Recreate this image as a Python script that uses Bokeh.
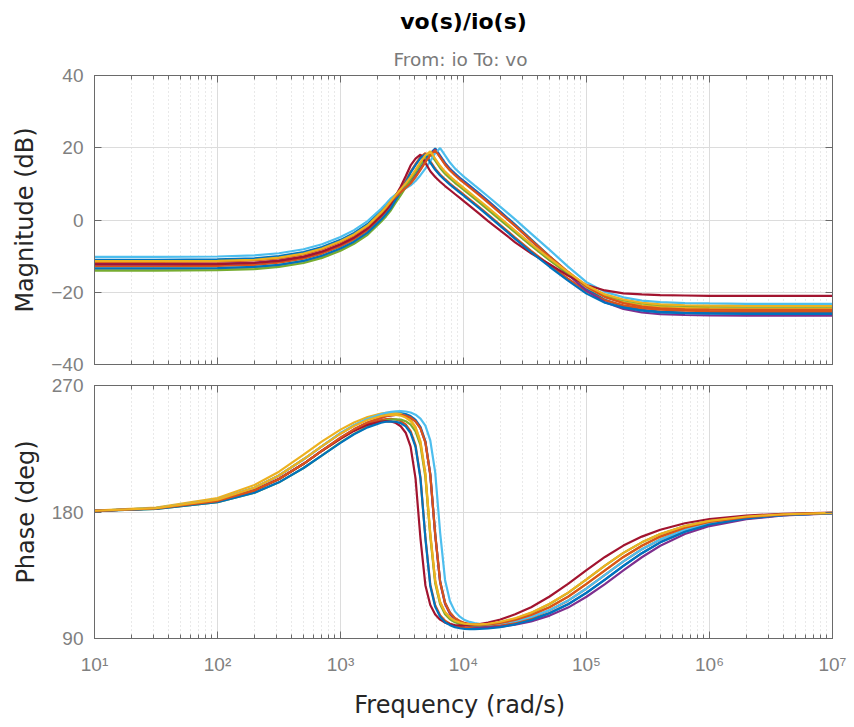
from bokeh.plotting import figure
from bokeh.models import Range1d, FixedTicker, LogAxis, LinearAxis, Title
from bokeh.layouts import column
from bokeh.embed import file_html
from bokeh.resources import INLINE

# ---------------- data ----------------
freq = [10, 31.6, 100, 200, 316, 501, 708, 1000, 1288, 1660, 2138, 2344, 2570, 2818,
        3090, 3388, 3715, 4074, 4467, 4898, 5370, 5888, 6457, 7079, 7762, 8511, 9333,
        10230, 11220, 12300, 13490, 15850, 19950, 26300, 35480, 50120, 70790, 100000,
        141300, 199500, 281800, 398100, 631000, 1000000, 1995000, 3981000, 10000000]

mag_c0 = [-11.0, -11.0, -10.9, -10.6, -10.0, -8.9, -7.5, -5.5, -3.6, -1.1, 2.5, 4.0, 5.7, 7.05, 8.25, 9.43,
          10.6, 12.4, 14.4, 16.5, 18.4, 19.8, 17.8, 15.8, 14.2, 12.9, 11.7, 10.6, 9.5, 8.4, 7.3,
          5.3, 2.31, -1.28, -5.36, -10.03, -14.59, -18.95, -22.12, -23.9, -24.9, -25.35, -25.6, -25.7, -25.8, -25.8, -25.8]
mag_c1 = [-12.8, -12.8, -12.7, -12.4, -11.8, -10.7, -9.3, -7.3, -5.4, -2.9, 0.7, 2.2, 3.9, 6.13, 8.35, 10.78,
          13.4, 15.5, 17.4, 18.5, 16.2, 14.2, 12.6, 11.3, 10.1, 9.0, 7.9, 6.8, 5.7, 4.6, 3.5,
          1.5, -1.39, -4.87, -8.54, -12.5, -16.24, -19.78, -22.23, -23.6, -24.4, -24.85, -25.1, -25.2, -25.3, -25.3, -25.3]
mag_c2 = [-13.5, -13.5, -13.4, -13.1, -12.5, -11.4, -10.0, -8.0, -6.1, -3.6, 0.0, 1.5, 3.2, 5.3, 7.3, 9.4,
          11.6, 13.6, 15.7, 17.6, 18.7, 16.7, 14.7, 13.1, 11.8, 10.6, 9.5, 8.4, 7.3, 6.2, 5.1,
          3.1, 0.23, -3.24, -6.98, -11.09, -14.97, -18.65, -21.26, -22.7, -23.6, -24.05, -24.3, -24.4, -24.5, -24.5, -24.5]
mag_c3 = [-12.2, -12.2, -12.1, -11.8, -11.2, -10.1, -8.7, -6.7, -4.8, -2.3, 1.3, 2.8, 4.5, 6.08, 7.5, 8.9,
          10.3, 12.1, 14.1, 16.2, 18.1, 19.5, 17.5, 15.5, 13.9, 12.6, 11.4, 10.3, 9.2, 8.1, 7.0,
          5.0, 1.99, -1.62, -5.74, -10.47, -15.11, -19.55, -22.78, -24.6, -25.6, -26.05, -26.3, -26.4, -26.5, -26.5, -26.5]
mag_c4 = [-14.0, -14.0, -13.9, -13.6, -13.0, -11.9, -10.5, -8.5, -6.6, -4.1, -0.5, 1.0, 2.7, 4.85, 6.9, 9.05,
          11.3, 13.3, 15.4, 17.3, 18.4, 16.4, 14.4, 12.8, 11.5, 10.3, 9.2, 8.1, 7.0, 5.9, 4.8,
          2.8, -0.03, -3.46, -7.12, -11.11, -14.83, -18.35, -20.84, -22.2, -23.1, -23.55, -23.8, -23.9, -24.0, -24.0, -24.0]
mag_c5 = [-10.2, -10.2, -10.1, -9.8, -9.2, -8.1, -6.7, -4.7, -2.8, -0.3, 3.1, 4.5, 6.0, 7.1, 8.0, 8.8,
          9.6, 10.8, 12.4, 14.2, 16.3, 18.5, 19.9, 17.9, 15.9, 14.3, 13.0, 11.8, 10.7, 9.6, 8.5,
          6.5, 3.64, 0.17, -3.76, -8.26, -12.9, -17.2, -19.9, -21.4, -22.3, -22.75, -23.0, -23.1, -23.2, -23.2, -23.2]
mag_c6 = [-12.3, -12.3, -12.2, -11.9, -11.3, -10.2, -8.8, -6.8, -4.9, -2.4, 1.2, 2.7, 4.4, 6.8, 9.3, 12.1,
          15.1, 17.0, 18.1, 15.8, 13.5, 11.9, 10.6, 9.4, 8.3, 7.2, 6.1, 5.0, 3.9, 2.8, 1.7,
          -0.3, -2.94, -6.17, -9.24, -12.25, -15.4, -18.0, -19.5, -20.3, -20.6, -20.8, -20.9, -21.0, -21.0, -21.0, -21.0]
mag_c7 = [-13.4, -13.4, -13.3, -13.0, -12.4, -11.3, -9.9, -7.9, -6.0, -3.5, 0.1, 1.6, 3.3, 5.6, 7.9, 10.4,
          13.1, 15.2, 17.1, 18.2, 15.9, 13.9, 12.3, 11.0, 9.8, 8.7, 7.6, 6.5, 5.4, 4.3, 3.2,
          1.2, -1.71, -5.21, -8.92, -12.94, -16.76, -20.38, -22.89, -24.3, -25.1, -25.55, -25.8, -25.9, -26.0, -26.0, -26.0]
mag_c8 = [-11.6, -11.6, -11.5, -11.2, -10.6, -9.5, -8.1, -6.1, -4.2, -1.7, 1.9, 3.4, 5.1, 6.48, 7.7, 8.9,
          10.1, 11.9, 13.9, 16.0, 17.9, 19.3, 17.3, 15.3, 13.7, 12.4, 11.2, 10.1, 9.0, 7.9, 6.8,
          4.8, 1.88, -1.64, -5.58, -10.04, -14.32, -18.4, -21.36, -23.0, -24.0, -24.45, -24.7, -24.8, -24.9, -24.9, -24.9]
mag_c9 = [-11.4, -11.4, -11.3, -11.0, -10.4, -9.3, -7.9, -5.9, -4.0, -1.5, 2.1, 3.6, 5.3, 6.95, 8.5, 10.15,
          11.9, 13.9, 16.0, 17.9, 19.0, 17.0, 15.0, 13.4, 12.1, 10.9, 9.8, 8.7, 7.6, 6.5, 5.4,
          3.4, 0.55, -2.9, -6.6, -10.65, -14.45, -18.05, -20.6, -22.0, -22.9, -23.35, -23.6, -23.7, -23.8, -23.8, -23.8]

phase_c0 = [180.9, 182.8, 188.8, 197.2, 206.0, 217.5, 226.9,
            235.9, 241.5, 246.0, 249.0, 249.8, 250.3, 250.5, 250.4, 249.7, 248.3, 245.6, 240.5, 230.5,
            207.1, 164.4, 130.7, 115.4, 108.3, 104.3, 102.0, 100.5, 99.7, 99.2, 98.9,
            98.7, 99.4, 100.9, 103.7,
            108.2, 114.4, 122.6, 131.9, 141.7, 150.7, 158.4, 165.9, 171.1, 175.5, 177.7, 179.1]
phase_c1 = [180.8, 182.5, 187.8, 195.4, 203.5, 214.3, 223.6,
            232.4, 238.1, 242.7, 245.5, 246.1, 246.2, 245.8, 244.7, 242.3, 237.5, 227.5, 204.8, 162.3,
            128.5, 113.6, 106.5, 102.7, 100.5, 99.1, 98.3, 97.8, 97.6, 97.6, 97.7,
            98.1, 99.2, 101.4, 104.6,
            110.1, 116.9, 125.6, 135.2, 144.9, 153.5, 160.5, 167.4, 172.0, 176.0, 178.0, 179.2]
phase_c2 = [181.0, 183.2, 189.9, 199.2, 208.7, 220.8, 230.2,
            238.6, 243.7, 247.6, 250.0, 250.5, 250.7, 250.4, 249.8, 248.3, 245.6, 240.5, 230.4, 207.6,
            164.7, 131.2, 116.0, 108.7, 104.9, 102.5, 101.2, 100.3, 99.8, 99.6, 99.5,
            99.8, 101.0, 103.1, 106.7,
            112.4, 119.8, 128.8, 138.5, 148.0, 156.0, 162.5, 168.8, 172.9, 176.4, 178.2, 179.3]
phase_c3 = [180.8, 182.5, 187.8, 195.4, 203.5, 214.3, 223.6,
            232.9, 238.8, 243.7, 247.1, 248.1, 248.7, 249.0, 249.0, 248.5, 247.2, 244.5, 239.5, 229.6,
            206.1, 163.4, 129.8, 114.6, 107.5, 103.5, 101.3, 99.8, 98.9, 98.4, 98.0,
            97.9, 98.4, 99.8, 102.2,
            106.3, 112.0, 119.7, 128.7, 138.5, 147.8, 156.0, 164.3, 170.0, 174.9, 177.5, 179.0]
phase_c4 = [180.7, 182.2, 187.0, 193.7, 201.1, 211.3, 220.3,
            229.5, 235.6, 240.7, 244.4, 245.3, 245.8, 246.0, 245.7, 244.6, 242.2, 237.4, 227.5, 204.9,
            162.6, 129.3, 114.4, 107.3, 103.7, 101.6, 100.4, 99.6, 99.4, 99.3, 99.4,
            99.9, 101.4, 104.1, 108.2,
            114.5, 122.5, 132.0, 141.8, 150.9, 158.4, 164.3, 170.0, 173.7, 176.8, 178.4, 179.4]
phase_c5 = [180.9, 182.8, 188.8, 197.2, 206.0, 217.5, 226.9,
            236.2, 241.8, 246.4, 249.6, 250.5, 251.2, 251.6, 251.8, 251.5, 250.8, 249.2, 246.5, 241.5,
            231.0, 208.2, 165.4, 131.7, 116.5, 109.3, 105.5, 103.1, 101.8, 100.9, 100.4,
            100.1, 100.7, 102.4, 105.4,
            110.2, 117.0, 125.6, 135.2, 144.9, 153.5, 160.5, 167.4, 172.0, 176.0, 178.0, 179.2]
phase_c6 = [180.8, 182.5, 187.8, 195.4, 203.5, 214.3, 223.6,
            232.1, 237.7, 242.0, 244.4, 244.7, 244.4, 243.3, 241.0, 236.4, 226.5, 203.9, 161.3, 127.9,
            113.8, 107.0, 103.4, 101.3, 100.2, 99.5, 99.3, 99.2, 99.5, 99.8, 100.3,
            101.4, 103.5, 107.2, 112.2,
            119.9, 128.8, 138.6, 148.0, 156.1, 162.5, 167.4, 172.0, 175.0, 177.5, 178.7, 179.5]
phase_c7 = [180.7, 182.2, 187.0, 193.7, 201.1, 211.3, 220.3,
            229.2, 235.3, 240.2, 243.5, 244.2, 244.4, 244.2, 243.2, 240.9, 236.2, 226.4, 203.8, 161.3,
            127.4, 112.5, 105.5, 101.6, 99.5, 98.1, 97.3, 96.9, 96.7, 96.7, 96.8,
            97.1, 98.1, 100.1, 103.0,
            108.0, 114.3, 122.5, 131.9, 141.7, 150.7, 158.4, 165.9, 171.1, 175.5, 177.7, 179.1]
phase_c8 = [180.8, 182.5, 187.8, 195.4, 203.5, 214.3, 223.6,
            232.9, 238.8, 243.7, 247.1, 248.1, 248.7, 249.0, 249.0, 248.5, 247.2, 244.5, 239.5, 229.6,
            206.8, 164.2, 130.6, 115.5, 108.5, 104.6, 102.5, 101.1, 100.3, 100.0, 99.8,
            100.0, 101.0, 103.2, 106.7,
            112.2, 119.7, 128.8, 138.5, 148.0, 156.0, 162.5, 168.8, 172.9, 176.4, 178.2, 179.3]
phase_c9 = [180.9, 182.8, 188.8, 197.2, 206.0, 217.5, 226.9,
            235.7, 241.2, 245.5, 248.3, 248.9, 249.2, 249.1, 248.6, 247.2, 244.6, 239.6, 229.5, 206.8,
            164.3, 130.8, 115.8, 108.6, 104.9, 102.6, 101.4, 100.5, 100.2, 100.0, 100.1,
            100.5, 101.9, 104.4, 108.4,
            114.7, 122.6, 132.1, 141.8, 150.9, 158.4, 164.3, 170.0, 173.7, 176.8, 178.4, 179.4]

line_colors = ["#0072BD", "#D95319", "#EDB120", "#7E2F8E", "#77AC30",
               "#4DBEEE", "#A2142F", "#0072BD", "#D95319", "#EDB120"]

x_major_ticks = [10, 100, 1000, 10000, 100000, 1000000, 10000000]
x_tick_labels = ["10\u00b9", "10\u00b2", "10\u00b3", "10\u2074", "10\u2075", "10\u2076", "10\u2077"]
x_minor_ticks = [m * d for d in [10, 100, 1000, 10000, 100000, 1000000] for m in range(2, 10)]
mag_ticks = [-40, -20, 0, 20, 40]
phase_ticks = [90, 180, 270]

title_text = "vo(s)/io(s)"
subtitle_text = "From: io  To: vo"
mag_label = "Magnitude (dB)"
phase_label = "Phase (deg)"
freq_label = "Frequency  (rad/s)"

mags = [mag_c0, mag_c1, mag_c2, mag_c3, mag_c4, mag_c5, mag_c6, mag_c7, mag_c8, mag_c9]
phases = [phase_c0, phase_c1, phase_c2, phase_c3, phase_c4, phase_c5, phase_c6, phase_c7, phase_c8, phase_c9]

# ---------------- styling ----------------
TICK_FONT = "Liberation Sans"
TEXT_FONT = "DejaVu Sans"
FRAME = "#6a6a6a"
TICKLBL = "#808080"
LABEL = "#262626"


def tick_style(ax):
    ax.axis_line_color = FRAME
    ax.major_tick_line_color = FRAME
    ax.minor_tick_line_color = FRAME
    ax.major_tick_in = 7
    ax.major_tick_out = 0
    ax.minor_tick_in = 4
    ax.minor_tick_out = 0


def hide_labels(ax):
    ax.major_label_text_font_size = "1px"
    ax.major_label_text_color = None
    ax.major_label_standoff = 0


def style_axes(p, yticks, ylabel, show_x_labels):
    p.xaxis.ticker = FixedTicker(ticks=x_major_ticks, minor_ticks=x_minor_ticks)
    p.yaxis.ticker = FixedTicker(ticks=yticks)
    for ax in p.xaxis + p.yaxis:
        tick_style(ax)
        ax.major_label_text_font = TICK_FONT
        ax.major_label_text_font_size = "19px"
        ax.major_label_text_color = TICKLBL
        ax.axis_label_text_font = TEXT_FONT
        ax.axis_label_text_font_style = "normal"
        ax.axis_label_text_color = LABEL
    p.yaxis.minor_tick_line_color = None
    p.yaxis.axis_label = ylabel
    p.yaxis.axis_label_text_font_size = "24px"
    p.yaxis.major_label_standoff = 11
    p.yaxis.axis_label_standoff = 9
    if show_x_labels:
        p.xaxis.major_label_overrides = dict(zip(x_major_ticks, x_tick_labels))
        p.xaxis.major_label_standoff = 15
        p.xaxis.axis_label = freq_label
        p.xaxis.axis_label_text_font_size = "24px"
        p.xaxis.axis_label_standoff = 13
    else:
        for ax in p.xaxis:
            hide_labels(ax)

    top = LogAxis(ticker=FixedTicker(ticks=x_major_ticks, minor_ticks=x_minor_ticks))
    right = LinearAxis(ticker=FixedTicker(ticks=yticks))
    for ax in (top, right):
        tick_style(ax)
        hide_labels(ax)
    right.minor_tick_line_color = None
    p.add_layout(top, "above")
    p.add_layout(right, "right")

    p.xgrid.grid_line_color = "#dcdcdc"
    p.xgrid.grid_line_width = 1
    p.xgrid.minor_grid_line_color = "#d2d2d2"
    p.xgrid.minor_grid_line_dash = "1 3"
    p.ygrid.grid_line_color = "#dcdcdc"
    p.ygrid.grid_line_width = 1
    p.outline_line_color = FRAME
    p.background_fill_color = "white"
    p.border_fill_color = "white"


p1 = figure(width=854, height=375, x_axis_type="log",
            x_range=Range1d(10, 1e7), y_range=Range1d(-40, 40),
            output_backend="svg", toolbar_location=None,
            min_border_left=94, min_border_right=22, min_border_top=74, min_border_bottom=11)
p1.title.visible = False
style_axes(p1, mag_ticks, mag_label, False)
p1.add_layout(Title(text=subtitle_text, align="center", text_font=TEXT_FONT, text_font_size="18.5px",
                    text_font_style="normal", text_color="#7a7a7a", standoff=12), "above")
p1.add_layout(Title(text=title_text, align="center", text_font=TEXT_FONT, text_font_size="22px",
                    text_font_style="bold", text_color="#000000", standoff=13), "above")

p2 = figure(width=854, height=352, x_axis_type="log",
            x_range=p1.x_range, y_range=Range1d(90, 270),
            output_backend="svg", toolbar_location=None,
            min_border_left=94, min_border_right=22, min_border_top=10, min_border_bottom=89)
p2.title.visible = False
style_axes(p2, phase_ticks, phase_label, True)

for m, ph, c in zip(mags, phases, line_colors):
    p1.line(freq, m, line_color=c, line_width=2.2)
    p2.line(freq, ph, line_color=c, line_width=2.2)

layout = column(p1, p2, spacing=0)
open("out.html", "w").write(file_html(layout, INLINE))
